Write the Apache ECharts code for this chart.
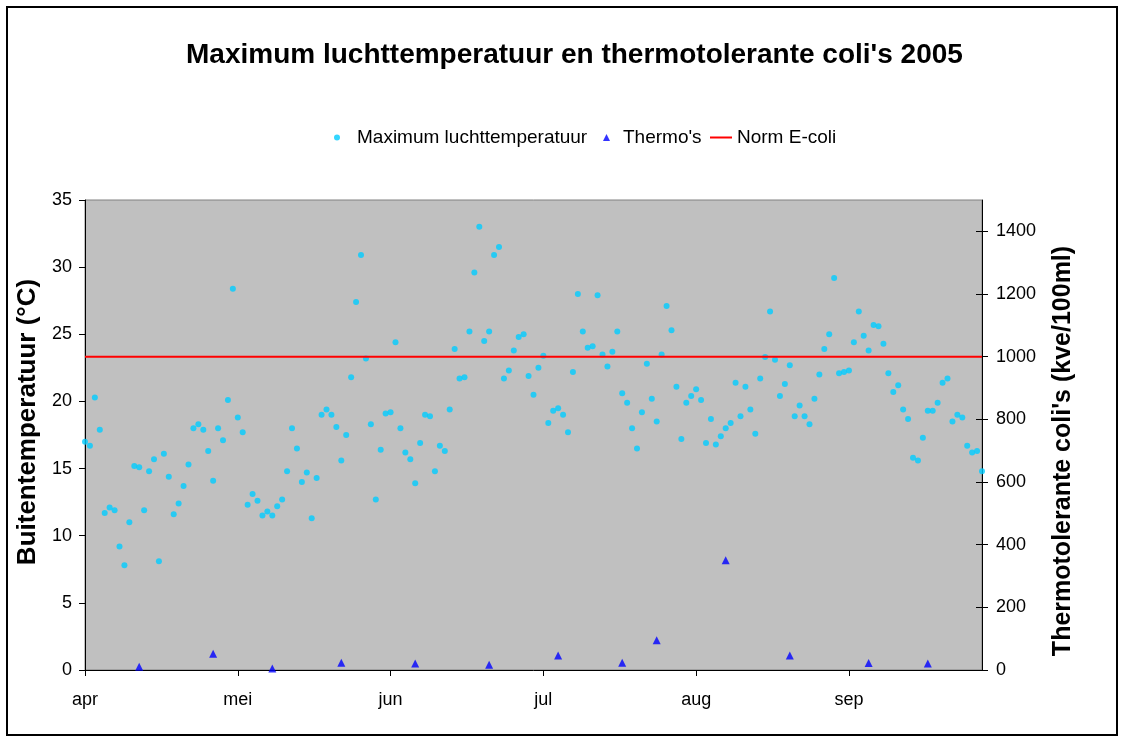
<!DOCTYPE html>
<html>
<head>
<meta charset="utf-8">
<script src="https://cdn.jsdelivr.net/npm/echarts@6/dist/echarts.min.js"></script>
<style>
  html, body { margin: 0; padding: 0; background: #fff; }
  #chart { width: 1124px; height: 743px; }
</style>
</head>
<body>
<div id="chart"></div>
<script>
const FONT = '"Liberation Sans", Arial, sans-serif';

// dagelijkse waarden vanaf 1 april 2005 (index = dag)
const startDate = new Date(2005, 3, 1);
const monthNames = ['jan', 'feb', 'mrt', 'apr', 'mei', 'jun', 'jul', 'aug', 'sep', 'okt', 'nov', 'dec'];

const maxTemp = [
  17.0, 16.7, 20.3, 17.9, 11.7, 12.1, 11.9, 9.2, 7.8, 11.0,
  15.2, 15.1, 11.9, 14.8, 15.7, 8.1, 16.1, 14.4, 11.6, 12.4,
  13.7, 15.3, 18.0, 18.3, 17.9, 16.3, 14.1, 18.0, 17.1, 20.1,
  28.4, 18.8, 17.7, 12.3, 13.1, 12.6, 11.5, 11.8, 11.5, 12.2,
  12.7, 14.8, 18.0, 16.5, 14.0, 14.7, 11.3, 14.3, 19.0, 19.4,
  19.0, 18.1, 15.6, 17.5, 21.8, 27.4, 30.9, 23.2, 18.3, 12.7,
  16.4, 19.1, 19.2, 24.4, 18.0, 16.2, 15.7, 13.9, 16.9, 19.0,
  18.9, 14.8, 16.7, 16.3, 19.4, 23.9, 21.7, 21.8, 25.2, 29.6,
  33.0, 24.5, 25.2, 30.9, 31.5, 21.7, 22.3, 23.8, 24.8, 25.0,
  21.9, 20.5, 22.5, 23.4, 18.4, 19.3, 19.5, 19.0, 17.7, 22.2,
  28.0, 25.2, 24.0, 24.1, 27.9, 23.5, 22.6, 23.7, 25.2, 20.6,
  19.9, 18.0, 16.5, 19.2, 22.8, 20.2, 18.5, 23.5, 27.1, 25.3,
  21.1, 17.2, 19.9, 20.4, 20.9, 20.1, 16.9, 18.7, 16.8, 17.4,
  18.0, 18.4, 21.4, 18.9, 21.1, 19.4, 17.6, 21.7, 23.3, 26.7,
  23.1, 20.4, 21.3, 22.7, 18.9, 19.7, 18.9, 18.3, 20.2, 22.0,
  23.9, 25.0, 29.2, 22.1, 22.2, 22.3, 24.4, 26.7, 24.9, 23.8,
  25.7, 25.6, 24.3, 22.1, 20.7, 21.2, 19.4, 18.7, 15.8, 15.6,
  17.3, 19.3, 19.3, 19.9, 21.4, 21.7, 18.5, 19.0, 18.8, 16.7,
  16.2, 16.3, 14.8
];

const thermoDays = [11, 26, 38, 52, 67, 82, 96, 109, 116, 130, 143, 159, 171];
const thermoValues = [10, 52, 5, 23, 21, 17, 46, 23, 95, 350, 46, 22, 21];

const normEcoli = 1000;
const lastDay = 182;

const dayTicks = [0, 31, 62, 93, 124, 155];
const coliTicks = [0, 200, 400, 600, 800, 1000, 1200, 1400];

const monthLabel = (d) => {
  const dt = new Date(startDate);
  dt.setDate(dt.getDate() + Math.round(d));
  return monthNames[dt.getMonth()];
};

const chart = echarts.init(document.getElementById('chart'));

const labelStyle = { color: '#000', fontFamily: FONT, fontSize: 18 };

const option = {
  animation: false,
  backgroundColor: '#fff',
  title: {
    text: "Maximum luchttemperatuur en thermotolerante coli's 2005",
    left: 186,
    top: 41,
    padding: 0,
    textStyle: { color: '#000', fontFamily: FONT, fontSize: 28, fontWeight: 'bold', lineHeight: 28 },
  },
  legend: [
    {
      data: [{ name: 'Maximum luchttemperatuur', icon: 'circle' }],
      left: 334, top: 128, padding: 0,
      itemWidth: 30, itemHeight: 6,
      textStyle: { color: '#000', fontFamily: FONT, fontSize: 19 },
    },
    {
      data: [{ name: "Thermo's", icon: 'triangle' }],
      left: 603, top: 128, padding: 0,
      itemWidth: 7, itemHeight: 7,
      textStyle: { color: '#000', fontFamily: FONT, fontSize: 19, padding: [0, 0, 0, 8] },
    },
    {
      data: [{ name: 'Norm E-coli', icon: 'rect' }],
      left: 710, top: 128, padding: 0,
      itemWidth: 22, itemHeight: 2,
      textStyle: { color: '#000', fontFamily: FONT, fontSize: 19 },
    },
  ],
  grid: {
    left: 85, top: 200, width: 897, height: 470,
    show: true,
    backgroundColor: '#c0c0c0',
    borderColor: '#808080',
    borderWidth: 1,
  },
  xAxis: {
    type: 'value',
    min: 0,
    max: lastDay,
    splitLine: { show: false },
    axisLine: { lineStyle: { color: '#000', width: 1 } },
    axisTick: { customValues: dayTicks, length: 6, lineStyle: { color: '#000' } },
    axisLabel: { ...labelStyle, customValues: dayTicks, margin: 21, formatter: monthLabel },
  },
  yAxis: [
    {
      type: 'value',
      position: 'left',
      min: 0, max: 35, interval: 5,
      splitLine: { show: false },
      axisLine: { show: true, lineStyle: { color: '#000', width: 1 } },
      axisTick: { show: true, length: 6, lineStyle: { color: '#000' } },
      axisLabel: { ...labelStyle, margin: 13 },
      name: 'Buitentemperatuur (°C)',
      nameLocation: 'middle',
      nameGap: 37,
      nameTextStyle: { color: '#000', fontFamily: FONT, fontSize: 26, fontWeight: 'bold', padding: [0, 0, 0, 26] },
    },
    {
      type: 'value',
      position: 'right',
      min: 0, max: 1500,
      splitLine: { show: false },
      axisLine: { show: true, lineStyle: { color: '#000', width: 1 } },
      axisTick: { show: true, customValues: coliTicks, length: 6, lineStyle: { color: '#000' } },
      axisLabel: { ...labelStyle, customValues: coliTicks, margin: 14, formatter: (v) => String(v) },
      name: "Thermotolerante coli's (kve/100ml)",
      nameLocation: 'middle',
      nameGap: 69,
      nameTextStyle: { color: '#000', fontFamily: FONT, fontSize: 25, fontWeight: 'bold', padding: [0, 32, 0, 0] },
    },
    {
      // binnenwaartse tick-streepjes rechteras
      type: 'value',
      position: 'right',
      min: 0, max: 1500,
      splitLine: { show: false },
      axisLine: { show: false },
      axisLabel: { show: false },
      axisTick: { show: true, inside: true, customValues: coliTicks, length: 6, lineStyle: { color: '#000' } },
    },
  ],
  series: [
    {
      name: 'Maximum luchttemperatuur',
      type: 'scatter',
      yAxisIndex: 0,
      symbol: 'circle',
      symbolSize: 6,
      clip: false,
      itemStyle: { color: '#00ccff' },
      data: maxTemp.map((v, i) => [i, v]),
    },
    {
      name: "Thermo's",
      type: 'scatter',
      yAxisIndex: 1,
      symbol: 'triangle',
      symbolSize: 8,
      clip: false,
      itemStyle: { color: '#0000ff' },
      data: thermoDays.map((d, i) => [d, thermoValues[i]]),
    },
    {
      name: 'Norm E-coli',
      type: 'line',
      yAxisIndex: 1,
      symbol: 'none',
      lineStyle: { color: '#ff0000', width: 2 },
      itemStyle: { color: '#ff0000' },
      data: [[0, normEcoli], [lastDay, normEcoli]],
    },
  ],
  graphic: [
    {
      type: 'rect',
      shape: { x: 7, y: 7, width: 1110, height: 728 },
      style: { fill: 'none', stroke: '#000', lineWidth: 2 },
      silent: true,
    },
  ],
};

chart.setOption(option);
</script>
</body>
</html>
